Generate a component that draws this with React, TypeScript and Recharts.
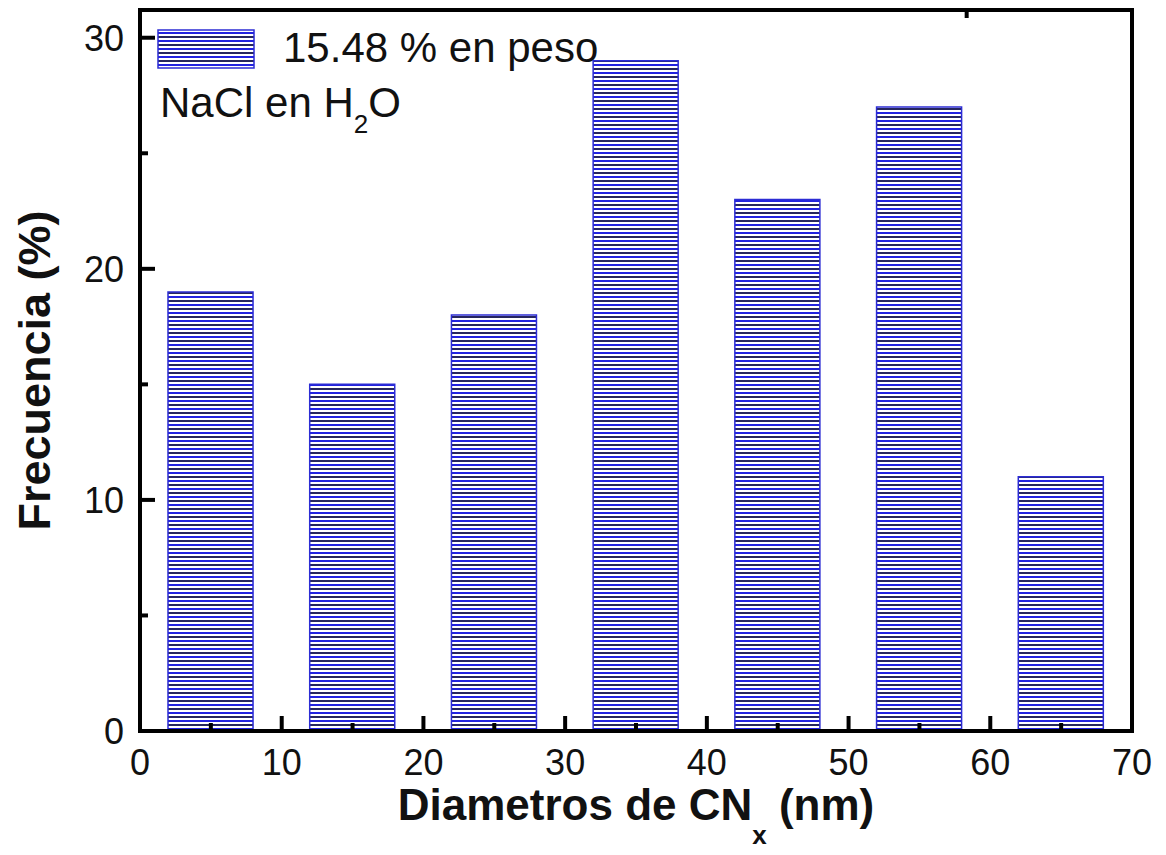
import React from 'react';
import { BarChart, Bar, XAxis, YAxis, Label } from 'recharts';

// bin centres (nm) and their frequency (%)
const diameters = [5, 15, 25, 35, 45, 55, 65];
const frequencies = [19, 15, 18, 29, 23, 27, 11];
const xTicks = [0, 5, 10, 15, 20, 25, 30, 35, 40, 45, 50, 55, 60, 65, 70];
const yTicks = [0, 5, 10, 15, 20, 25, 30];
const seriesName = '15.48 % en peso';

const data = diameters.map((d, i) => ({ d, freq: frequencies[i] }));

const W = 1166;
const H = 855;
const FONT = '"Liberation Sans", Arial, Helvetica, sans-serif';
const MAJOR = 15;
const MINOR = 8;
const TICK_W = 4;
const X_GAP = 18;
const Y_GAP = 16;
const BIN_WIDTH = 6;

const isMajor = (v: number) => v % 10 === 0;

const BottomTick = (props: any) => {
  const { x, y, payload } = props;
  const v = payload.value;
  const axisY = y - X_GAP;
  return (
    <g>
      <line x1={x} x2={x} y1={axisY} y2={axisY - (isMajor(v) ? MAJOR : MINOR)} stroke="#000" strokeWidth={TICK_W} />
      {isMajor(v) && (
        <text x={x} y={y} dy="0.72em" textAnchor="middle" fontSize={36} fontFamily={FONT} fill="#111">
          {v}
        </text>
      )}
    </g>
  );
};

const LeftTick = (props: any) => {
  const { x, y, payload } = props;
  const v = payload.value;
  const axisX = x + Y_GAP;
  return (
    <g>
      <line x1={axisX} x2={axisX + (isMajor(v) ? MAJOR : MINOR)} y1={y} y2={y} stroke="#000" strokeWidth={TICK_W} />
      {isMajor(v) && (
        <text x={x} y={y} dy="0.36em" textAnchor="end" fontSize={36} fontFamily={FONT} fill="#111">
          {v}
        </text>
      )}
    </g>
  );
};

const TopTick = (props: any) => {
  const { x, y, payload } = props;
  const v = payload.value;
  return <line x1={x} x2={x} y1={y} y2={y + (isMajor(v) ? MAJOR : MINOR)} stroke="#000" strokeWidth={TICK_W} />;
};

const RightTick = (props: any) => {
  const { x, y, payload } = props;
  const v = payload.value;
  return <line x1={x} x2={x - (isMajor(v) ? MAJOR : MINOR)} y1={y} y2={y} stroke="#000" strokeWidth={TICK_W} />;
};

const XTitle = (props: any) => {
  const vb = props.viewBox;
  return (
    <text x={vb.x + vb.width / 2} y={vb.y + 89} textAnchor="middle" fontSize={44} fontWeight="bold" fontFamily={FONT} fill="#111">
      Diametros de CN
      <tspan fontSize={26} dy={24}>x</tspan>
      <tspan dy={-24}> (nm)</tspan>
    </text>
  );
};

const YTitle = (props: any) => {
  const vb = props.viewBox;
  const cx = 50;
  const cy = vb.y + vb.height / 2;
  return (
    <text x={cx} y={cy} transform={`rotate(-90, ${cx}, ${cy})`} textAnchor="middle" fontSize={45} fontWeight="bold" fontFamily={FONT} fill="#111">
      Frecuencia (%)
    </text>
  );
};

const axisLine = { stroke: '#000', strokeWidth: TICK_W, strokeLinecap: 'square' as const };

export default function App() {
  const margin = { top: 9, right: 33, left: 0, bottom: 0 };
  const plotWidth = W - margin.left - margin.right - 140 - 1;
  const barSize = (plotWidth / 70) * BIN_WIDTH;

  return (
    <div style={{ position: 'absolute', left: 0, top: 0, width: W, height: H, background: '#fff' }}>
      <BarChart width={W} height={H} data={data} margin={margin}>
        <XAxis
          xAxisId="bottom"
          dataKey="d"
          type="number"
          domain={[0, 70]}
          ticks={xTicks}
          interval={0}
          height={124}
          tickSize={0}
          tickMargin={X_GAP}
          tickLine={false}
          axisLine={axisLine}
          tick={<BottomTick />}
          label={<Label content={XTitle} />}
        />
        <XAxis
          xAxisId="top"
          orientation="top"
          type="number"
          domain={[0, 70]}
          ticks={xTicks}
          interval={0}
          height={1}
          tickSize={0}
          tickMargin={0}
          tickLine={false}
          axisLine={axisLine}
          tick={<TopTick />}
        />
        <YAxis
          yAxisId="left"
          type="number"
          domain={[0, 31.2]}
          ticks={yTicks}
          interval={0}
          width={140}
          tickSize={0}
          tickMargin={Y_GAP}
          tickLine={false}
          axisLine={axisLine}
          tick={<LeftTick />}
          label={<Label content={YTitle} />}
        />
        <YAxis
          yAxisId="right"
          orientation="right"
          type="number"
          domain={[0, 31.2]}
          ticks={yTicks}
          interval={0}
          width={1}
          tickSize={0}
          tickMargin={0}
          tickLine={false}
          axisLine={axisLine}
          tick={<RightTick />}
        />
        <Bar
          xAxisId="bottom"
          yAxisId="left"
          dataKey="freq"
          name={seriesName}
          barSize={barSize}
          fill="url(#hstripes)"
          stroke="#2c2cd4"
          strokeWidth={1.5}
          isAnimationActive={false}
        />
      </BarChart>
      <svg width={W} height={H} style={{ position: 'absolute', left: 0, top: 0, pointerEvents: 'none' }}>
        <defs>
          <pattern id="hstripes" patternUnits="userSpaceOnUse" width={10} height={8}>
            <rect x={0} y={0} width={10} height={8} fill="#fff" />
            <rect x={0} y={0} width={10} height={2} fill="#2222e0" />
            <rect x={0} y={4} width={10} height={2} fill="#26265e" />
          </pattern>
        </defs>
        <rect x={158} y={30} width={96} height={38} fill="url(#hstripes)" stroke="#2c2cd4" strokeWidth={1.5} />
        <text x={283} y={62} fontSize={42} fontFamily={FONT} fill="#111">
          {seriesName}
        </text>
        <text x={160} y={117} fontSize={42} fontFamily={FONT} fill="#111">
          NaCl en H<tspan fontSize={26} dy={16}>2</tspan>
          <tspan dy={-16}>O</tspan>
        </text>
      </svg>
    </div>
  );
}
